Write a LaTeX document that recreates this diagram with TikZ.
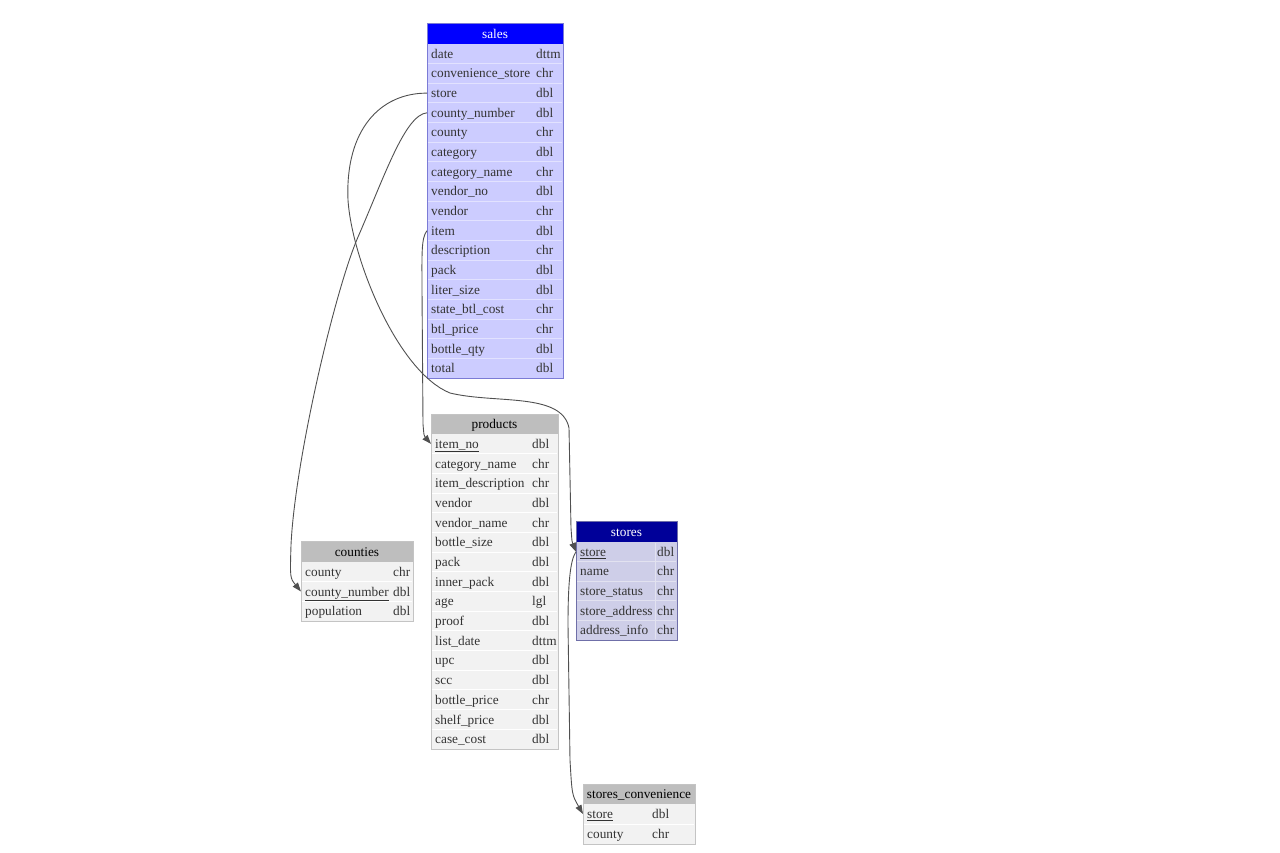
\documentclass[tikz,border=0pt]{standalone}
\usepackage{fontspec}
\setmainfont{Liberation Serif}
\usetikzlibrary{arrows.meta}
\definecolor{salesHead}{HTML}{0000FF}
\definecolor{salesBody}{HTML}{CCCCFF}
\definecolor{salesSep}{HTML}{E2E2FF}
\definecolor{salesBorder}{HTML}{7B7BD6}
\definecolor{storesHead}{HTML}{000099}
\definecolor{storesBody}{HTML}{CECEE8}
\definecolor{storesSep}{HTML}{E2E2F0}
\definecolor{storesBorder}{HTML}{6F6FA8}
\definecolor{grayHead}{HTML}{BEBEBE}
\definecolor{grayBody}{HTML}{F2F2F2}
\definecolor{graySep}{HTML}{FFFFFF}
\definecolor{grayBorder}{HTML}{C4C4C4}
\definecolor{edgeCol}{HTML}{505050}
\definecolor{txt}{HTML}{333333}
\begin{document}
\begin{tikzpicture}[x=1pt,y=-1pt,
  fnt/.style={font=\fontsize{13.3pt}{15pt}\selectfont},
  fld/.style={fnt,anchor=west,inner xsep=4pt,inner ysep=0pt,text height=10.5pt,text depth=1.5pt,text=txt},
  hdrw/.style={fnt,inner sep=0pt,text height=10.5pt,text depth=1.5pt,text=white},
  hdrb/.style={fnt,inner sep=0pt,text height=10.5pt,text depth=1.5pt,text=black},
  sep/.style={line width=1pt},
  fk/.style={draw=edgeCol,line width=0.9pt,-{Triangle[length=9pt,width=6.5pt]}}
]
\path[use as bounding box] (0,0) rectangle (1280,853);

% ---------- sales ----------
\def\rh{19.65}
\fill[salesBody] (427,44) rectangle (563,378);
\foreach \i in {1,...,16} \draw[sep,salesSep] (428,44+\rh*\i) -- (562,44+\rh*\i);
\fill[salesHead] (427,23) rectangle (563,44);
\draw[salesBorder] (427,23) rectangle (563,378);
\node[hdrw] (sales) at (495,34) {sales};
\foreach \a/\b [count=\i] in {date/dttm, convenience\_store/chr, store/dbl, county\_number/dbl, county/chr, category/dbl, category\_name/chr, vendor\_no/dbl, vendor/chr, item/dbl, description/chr, pack/dbl, liter\_size/dbl, state\_btl\_cost/chr, btl\_price/chr, bottle\_qty/dbl, total/dbl}{
  \node[fld] (sales-\i) at (427,44+\rh*\i-\rh/2) {\a};
  \node[fld] (salesT-\i) at (532,44+\rh*\i-\rh/2) {\b};
}

% ---------- products ----------
\def\rp{19.69}
\fill[grayBody] (431,434) rectangle (558,749);
\foreach \i in {1,...,15} \draw[sep,graySep] (432,434+\rp*\i) -- (557,434+\rp*\i);
\fill[grayHead] (431,414) rectangle (558,434);
\draw[grayBorder] (431,414) rectangle (558,749);
\node[hdrb] (products) at (494.5,424) {products};
\foreach \a/\b [count=\i] in {\underline{item\_no}/dbl, category\_name/chr, item\_description/chr, vendor/dbl, vendor\_name/chr, bottle\_size/dbl, pack/dbl, inner\_pack/dbl, age/lgl, proof/dbl, list\_date/dttm, upc/dbl, scc/dbl, bottle\_price/chr, shelf\_price/dbl, case\_cost/dbl}{
  \node[fld] (products-\i) at (431,434+\rp*\i-\rp/2) {\a};
  \node[fld] (productsT-\i) at (528,434+\rp*\i-\rp/2) {\b};
}

% ---------- counties ----------
\def\rc{19.67}
\fill[grayBody] (301,562) rectangle (413,621);
\foreach \i in {1,2} \draw[sep,graySep] (302,562+\rc*\i) -- (412,562+\rc*\i);
\fill[grayHead] (301,541) rectangle (413,562);
\draw[grayBorder] (301,541) rectangle (413,621);
\node[hdrb] (counties) at (357,552) {counties};
\foreach \a/\b [count=\i] in {county/chr, \underline{county\_number}/dbl, population/dbl}{
  \node[fld] (counties-\i) at (301,562+\rc*\i-\rc/2) {\a};
  \node[fld] (countiesT-\i) at (389,562+\rc*\i-\rc/2) {\b};
}

% ---------- stores ----------
\def\rs{19.6}
\fill[storesBody] (576,542) rectangle (677,640);
\foreach \i in {1,...,4} \draw[sep,storesSep] (577,542+\rs*\i) -- (676,542+\rs*\i);
\draw[sep,storesSep] (655,543) -- (655,639);
\fill[storesHead] (576,521) rectangle (677,542);
\draw[storesBorder] (576,521) rectangle (677,640);
\node[hdrw] (stores) at (626.5,532) {stores};
\foreach \a/\b [count=\i] in {\underline{store}/dbl, name/chr, store\_status/chr, store\_address/chr, address\_info/chr}{
  \node[fld] (stores-\i) at (576,542+\rs*\i-\rs/2) {\a};
  \node[fld] (storesT-\i) at (653,542+\rs*\i-\rs/2) {\b};
}

% ---------- stores_convenience ----------
\def\rv{20}
\fill[grayBody] (583,804) rectangle (695,844);
\draw[sep,graySep] (584,824) -- (694,824);
\fill[grayHead] (583,784) rectangle (695,804);
\draw[grayBorder] (583,784) rectangle (695,844);
\node[hdrb] (sc) at (639,794) {stores\_convenience};
\foreach \a/\b [count=\i] in {\underline{store}/dbl, county/chr}{
  \node[fld] (sc-\i) at (583,804+\rv*\i-\rv/2) {\a};
  \node[fld] (scT-\i) at (648,804+\rv*\i-\rv/2) {\b};
}

% ---------- relations ----------
\draw[fk] (sales-3.west) .. controls (380,93) and (345,130) .. (348,200)
  .. controls (352,260) and (398,372) .. (450,393)
  .. controls (495,404) and (562,392) .. (569,428)
  -- (571,528) .. controls (572,542) .. (stores-1.west);
\draw[fk] (sales-4.west) .. controls (405,115) and (385,175) .. (358,237)
  .. controls (335,290) and (295,460) .. (291,545)
  .. controls (290,578) .. (counties-2.west);
\draw[fk] (sales-10.west) .. controls (421,238) and (422,255) .. (422,290)
  -- (423,424) .. controls (424,436) .. (products-1.west);
\draw[fk] (stores-1.west) .. controls (570,560) and (568,585) .. (568,625)
  -- (570,760) .. controls (572,795) .. (sc-1.west);
\end{tikzpicture}
\end{document}
